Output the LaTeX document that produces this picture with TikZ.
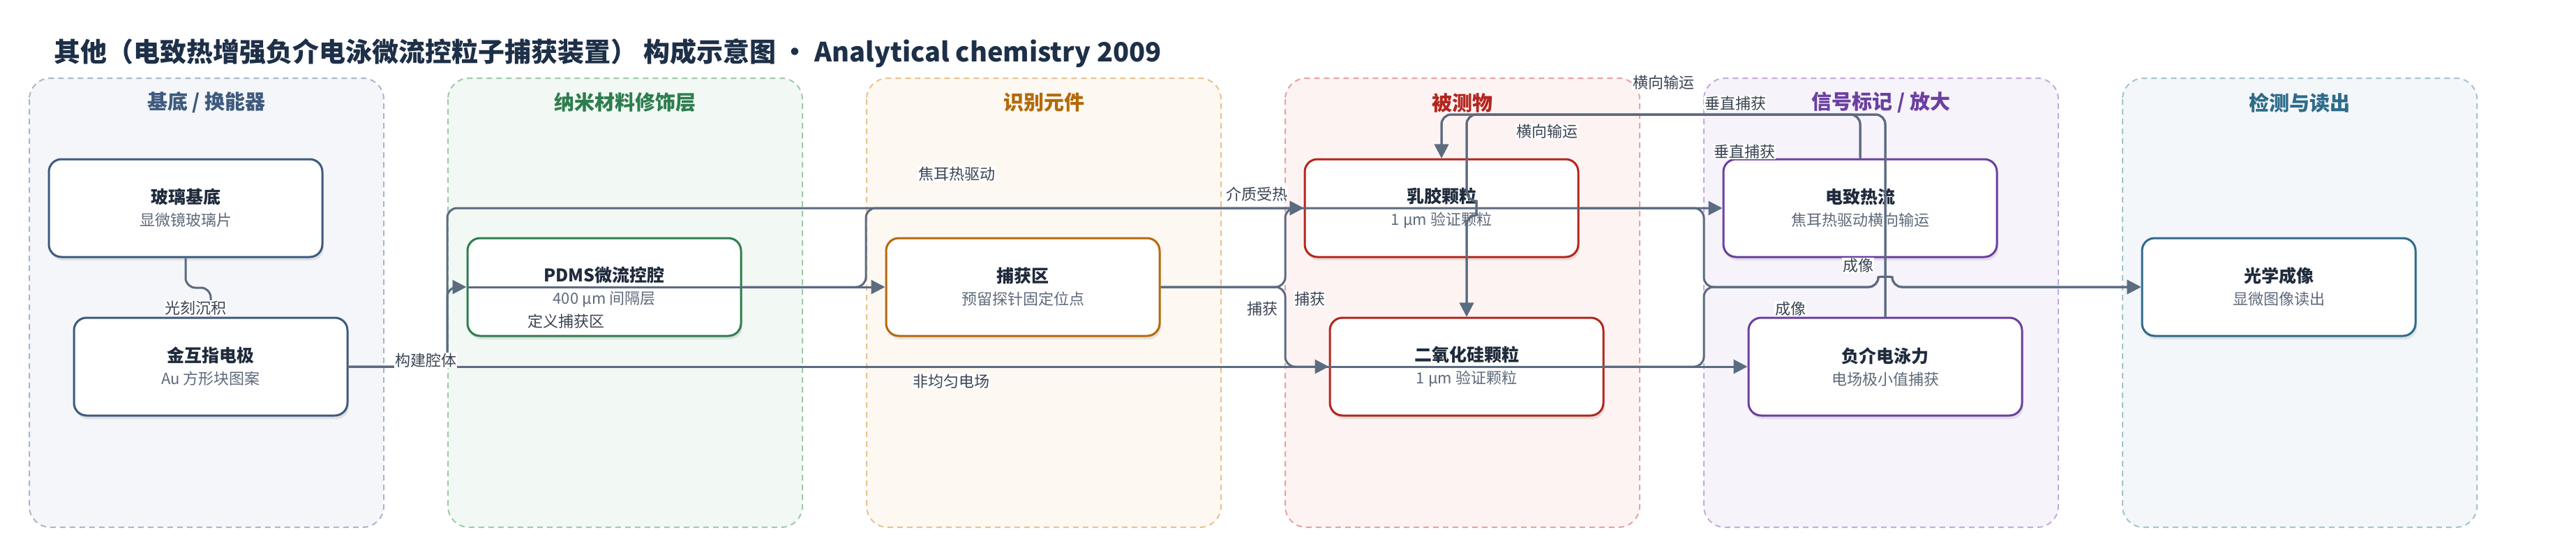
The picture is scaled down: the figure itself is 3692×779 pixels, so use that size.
\documentclass[tikz,border=0pt]{standalone}
\usepackage{fontspec}
\setmainfont{Noto Sans CJK SC}
\usetikzlibrary{arrows.meta,shadows}

\definecolor{titlecol}{HTML}{1E3048}
\definecolor{inkcol}{HTML}{1F2B3C}
\definecolor{subcol}{HTML}{5E6A7A}
\definecolor{lblcol}{HTML}{3B4453}
\definecolor{edgecol}{HTML}{5B6B80}
% group colours: line / fill / title
\definecolor{gAline}{HTML}{A9B7CB} \definecolor{gAfill}{HTML}{F4F6FA} \definecolor{gAtext}{HTML}{3E5A7E}
\definecolor{gBline}{HTML}{9ECBA8} \definecolor{gBfill}{HTML}{F2F8F4} \definecolor{gBtext}{HTML}{2E7D4E}
\definecolor{gCline}{HTML}{E9C28F} \definecolor{gCfill}{HTML}{FDF8F1} \definecolor{gCtext}{HTML}{B36A0A}
\definecolor{gDline}{HTML}{E8A2A2} \definecolor{gDfill}{HTML}{FDF3F2} \definecolor{gDtext}{HTML}{B3261E}
\definecolor{gEline}{HTML}{C3ABDD} \definecolor{gEfill}{HTML}{F6F3FB} \definecolor{gEtext}{HTML}{6B3FA0}
\definecolor{gFline}{HTML}{A3C4D0} \definecolor{gFfill}{HTML}{F3F7F9} \definecolor{gFtext}{HTML}{2E6B8A}

\tikzset{
  group/.style 2 args = {draw=#1, fill=#2, line width=2pt,
                         dash pattern=on 8pt off 6pt, rounded corners=30pt},
  grouptitle/.style = {text=#1, font=\bfseries\fontsize{29}{34}\selectfont},
  box/.style = {draw=#1, fill=white, line width=3pt, rounded corners=18pt,
                minimum width=392pt, minimum height=140pt, inner sep=0pt,
                align=center, text=inkcol, font=\fontsize{22}{32}\selectfont,
                drop shadow={shadow xshift=2pt, shadow yshift=-5pt, opacity=0.18}},
  link/.style = {draw=edgecol, line width=3pt, rounded corners=14pt,
                 -{Triangle[length=20pt, width=20pt]}},
  lbl/.style = {fill=white, text=lblcol, inner sep=1pt,
                font=\fontsize{22}{26}\selectfont}
}
\newcommand\boxtxt[2]{{\bfseries\fontsize{25}{32}\selectfont #1}\\{\color{subcol}#2}}

\begin{document}
\begin{tikzpicture}[x=1pt, y=-1pt]
	\useasboundingbox (0,0) rectangle (3692,779);

	% Title
	\node[anchor=west, text=titlecol, font=\bfseries\fontsize{38}{44}\selectfont] (title) at (74,76)
		{其他（电致热增强负介电泳微流控粒子捕获装置） 构成示意图 • Analytical chemistry 2009};

	% Groups
	\draw[group={gAline}{gAfill}] (42,112)   rectangle (550,755);
	\draw[group={gBline}{gBfill}] (642,112)  rectangle (1150,755);
	\draw[group={gCline}{gCfill}] (1242,112) rectangle (1750,755);
	\draw[group={gDline}{gDfill}] (1842,112) rectangle (2350,755);
	\draw[group={gEline}{gEfill}] (2442,112) rectangle (2950,755);
	\draw[group={gFline}{gFfill}] (3042,112) rectangle (3550,755);

	\node[grouptitle=gAtext] (tA) at (296,147)  {基底 / 换能器};
	\node[grouptitle=gBtext] (tB) at (896,147)  {纳米材料修饰层};
	\node[grouptitle=gCtext] (tC) at (1496,147) {识别元件};
	\node[grouptitle=gDtext] (tD) at (2096,147) {被测物};
	\node[grouptitle=gEtext] (tE) at (2696,147) {信号标记 / 放大};
	\node[grouptitle=gFtext] (tF) at (3296,147) {检测与读出};

	% Boxes
	\node[box=gAtext] (glass)     at (266,298)  {\boxtxt{玻璃基底}{显微镜玻璃片}};
	\node[box=gAtext] (electrode) at (302,525)  {\boxtxt{金互指电极}{Au 方形块图案}};
	\node[box=gBtext] (pdms)      at (866,411)  {\boxtxt{PDMS微流控腔}{400 µm 间隔层}};
	\node[box=gCtext] (capture)   at (1466,411) {\boxtxt{捕获区}{预留探针固定位点}};
	\node[box=gDtext] (latex)     at (2066,298) {\boxtxt{乳胶颗粒}{1 µm 验证颗粒}};
	\node[box=gDtext] (silica)    at (2102,525) {\boxtxt{二氧化硅颗粒}{1 µm 验证颗粒}};
	\node[box=gEtext] (etf)       at (2666,298) {\boxtxt{电致热流}{焦耳热驱动横向输运}};
	\node[box=gEtext] (dep)       at (2702,525) {\boxtxt{负介电泳力}{电场极小值捕获}};
	\node[box=gFtext] (optical)   at (3266,411) {\boxtxt{光学成像}{显微图像读出}};

	% Edges
	\draw[link] (glass.south) -- (266,412) -- (302,412) -- (electrode.north);
	\draw[link] (electrode.east) -- (641,525) -- (641,411) -- (pdms.west);
	\draw[link] (electrode.east) -- (641,525) -- (641,298) -- (etf.west);
	\draw[link] (pdms.west) -- (capture.west);
	\draw[link] (pdms.east) -- (1241,411) -- (1241,298) -- (latex.west);
	\draw[link] (capture.east) -- (1842,411) -- (1842,298) -- (latex.west);
	\draw[link] (capture.east) -- (1842,411) -- (1842,525) -- (silica.west);
	\draw[link] (electrode.east) -- (dep.west);
	\draw[link] (etf.north) -- (2666,164) -- (2066,164) -- (latex.north);
	\draw[link] (etf.north) -- (2666,164) -- (2102,164) -- (2102,288)
		.. controls (2116,288) and (2116,308) .. (2102,308) -- (silica.north);
	\draw[link] (dep.north) -- (2702,164) -- (2066,164) -- (latex.north);
	\draw[link] (dep.north) -- (2702,164) -- (2102,164) -- (2102,288)
		.. controls (2116,288) and (2116,308) .. (2102,308) -- (silica.north);
	\draw[link] (latex.east) -- (2442,298) -- (2442,411) -- (2692,411)
		.. controls (2692,396) and (2712,396) .. (2712,411) -- (optical.west);
	\draw[link] (silica.east) -- (2442,525) -- (2442,411) -- (2692,411)
		.. controls (2692,396) and (2712,396) .. (2712,411) -- (optical.west);

	% Edge labels
	\node[lbl] (l1)  at (280,441)  {光刻沉积};
	\node[lbl] (l2)  at (610,516)  {构建腔体};
	\node[lbl] (l3)  at (811,460)  {定义捕获区};
	\node[lbl] (l4)  at (1371,249) {焦耳热驱动};
	\node[lbl] (l5)  at (1801,278) {介质受热};
	\node[lbl] (l6)  at (1877,428) {捕获};
	\node[lbl] (l7)  at (1809,442) {捕获};
	\node[lbl] (l8)  at (1363,546) {非均匀电场};
	\node[lbl] (l9)  at (2384,118) {横向输运};
	\node[lbl] (l10) at (2217,188) {横向输运};
	\node[lbl] (l11) at (2487,148) {垂直捕获};
	\node[lbl] (l12) at (2500,217) {垂直捕获};
	\node[lbl] (l13) at (2663,380) {成像};
	\node[lbl] (l14) at (2566,442) {成像};

\end{tikzpicture}
\end{document}
